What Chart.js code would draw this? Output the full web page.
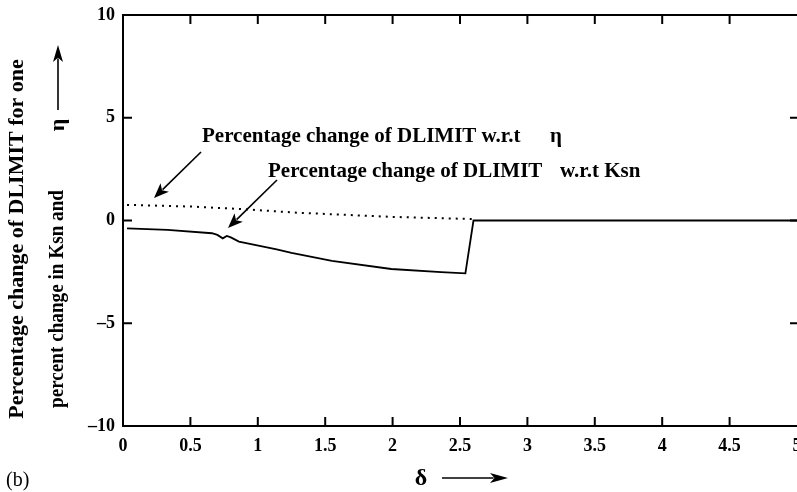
<!DOCTYPE html>
<html>
<head>
<meta charset="utf-8">
<script src="https://cdn.jsdelivr.net/npm/chart.js@4/dist/chart.umd.min.js"></script>
<style>
  html, body { margin: 0; padding: 0; background: #fff; }
  #wrap { width: 797px; height: 492px; }
</style>
</head>
<body>
<div id="wrap"><canvas id="chart" width="797" height="492"></canvas></div>
<script>
// tick labels
const xTicks = [0, 0.5, 1, 1.5, 2, 2.5, 3, 3.5, 4, 4.5, 5];
const yTicks = [-10, -5, 0, 5, 10];

// % change of DLIMIT w.r.t Ksn (solid)
const ksnDelta  = [0.03, 0.33, 0.66, 0.70, 0.74, 0.77, 0.80, 0.86, 1.14, 1.25, 1.55, 1.99, 2.36, 2.54, 2.60, 5.0];
const ksnChange = [-0.38, -0.46, -0.62, -0.70, -0.87, -0.75, -0.82, -1.03, -1.40, -1.57, -1.96, -2.36, -2.51, -2.57, 0.0, 0.0];

// % change of DLIMIT w.r.t eta (dotted)
const etaDelta  = [0.03, 0.5, 0.87, 1.29, 1.98, 2.59];
const etaChange = [0.76, 0.68, 0.56, 0.38, 0.18, 0.07];

const FONT = "'Liberation Serif', 'DejaVu Serif', serif";

function pts(xs, ys) {
  return xs.map((x, i) => ({ x: x, y: ys[i] }));
}

function arrow(ctx, x1, y1, x2, y2, head, half) {
  const a = Math.atan2(y2 - y1, x2 - x1);
  ctx.beginPath();
  ctx.moveTo(x1, y1);
  ctx.lineTo(x2 - Math.cos(a) * head * 0.8, y2 - Math.sin(a) * head * 0.8);
  ctx.stroke();
  ctx.beginPath();
  ctx.moveTo(x2, y2);
  ctx.lineTo(x2 - Math.cos(a) * head - Math.sin(a) * half, y2 - Math.sin(a) * head + Math.cos(a) * half);
  ctx.lineTo(x2 - Math.cos(a) * head * 0.75, y2 - Math.sin(a) * head * 0.75);
  ctx.lineTo(x2 - Math.cos(a) * head + Math.sin(a) * half, y2 - Math.sin(a) * head - Math.cos(a) * half);
  ctx.closePath();
  ctx.fill();
}

// frame, inward ticks, labels and arrows
const decor = {
  id: 'decor',
  afterDraw(chart) {
    const ctx = chart.ctx;
    const a = chart.chartArea;
    const xs = chart.scales.x, ys = chart.scales.y;
    const right = a.right + 2;
    ctx.save();
    ctx.strokeStyle = '#000';
    ctx.fillStyle = '#000';
    ctx.lineWidth = 2;
    ctx.strokeRect(a.left, a.top, right - a.left, a.bottom - a.top);

    const tl = 9;
    ctx.beginPath();
    xTicks.forEach(v => {
      if (v === xs.min || v === xs.max) return;
      const px = xs.getPixelForValue(v);
      ctx.moveTo(px, a.bottom); ctx.lineTo(px, a.bottom - tl);
      ctx.moveTo(px, a.top); ctx.lineTo(px, a.top + tl);
    });
    yTicks.forEach(v => {
      if (v === ys.min || v === ys.max) return;
      const py = ys.getPixelForValue(v);
      ctx.moveTo(a.left, py); ctx.lineTo(a.left + tl, py);
      ctx.moveTo(right, py); ctx.lineTo(right - tl, py);
    });
    ctx.stroke();

    // annotations
    ctx.font = 'bold 21px ' + FONT;
    ctx.textBaseline = 'alphabetic';
    ctx.textAlign = 'left';
    ctx.fillText('Percentage change of DLIMIT w.r.t', 202, 142);
    ctx.fillText('\u03B7', 550, 142);
    ctx.fillText('Percentage change of DLIMIT', 268, 177);
    ctx.fillText('w.r.t Ksn', 560, 177);
    ctx.lineWidth = 1.6;
    arrow(ctx, 201, 152, 154, 198, 15, 6);
    arrow(ctx, 277, 180, 228, 228, 15, 6);

    // y title
    ctx.font = 'bold 22px ' + FONT;
    ctx.save();
    ctx.translate(17, 239);
    ctx.rotate(-Math.PI / 2);
    ctx.textAlign = 'center';
    ctx.textBaseline = 'middle';
    ctx.fillText('Percentage change of DLIMIT for one', 0, 0);
    ctx.restore();
    ctx.save();
    ctx.font = 'bold 21px ' + FONT;
    ctx.translate(58, 0);
    ctx.rotate(-Math.PI / 2);
    ctx.textBaseline = 'middle';
    ctx.textAlign = 'left';
    ctx.fillText('percent change in Ksn and', -408, 0, 218);
    ctx.textAlign = 'center';
    ctx.font = 'bold 22px ' + FONT;
    ctx.fillText('\u03B7', -125, 0);
    ctx.restore();
    ctx.lineWidth = 1.6;
    arrow(ctx, 58, 110, 58, 45, 17, 5);

    // x title
    ctx.font = 'bold 24px ' + FONT;
    ctx.textAlign = 'center';
    ctx.textBaseline = 'middle';
    ctx.fillText('\u03B4', 421, 479);
    arrow(ctx, 442, 478, 508, 478, 18, 5);

    ctx.font = '20px ' + FONT;
    ctx.textAlign = 'left';
    ctx.fillText('(b)', 6, 481);
    ctx.restore();
  }
};

new Chart(document.getElementById('chart'), {
  type: 'line',
  data: {
    datasets: [
      {
        label: 'w.r.t Ksn',
        data: pts(ksnDelta, ksnChange),
        borderColor: '#000',
        borderWidth: 1.8,
        pointRadius: 0,
        tension: 0
      },
      {
        label: 'w.r.t eta',
        data: pts(etaDelta, etaChange),
        borderColor: '#000',
        borderWidth: 2,
        borderDash: [2, 5],
        pointRadius: 0,
        tension: 0
      }
    ]
  },
  options: {
    responsive: false,
    animation: false,
    layout: { padding: { top: 15, right: 0, left: 0, bottom: 0 } },
    plugins: { legend: { display: false }, tooltip: { enabled: false } },
    scales: {
      x: {
        type: 'linear',
        min: 0, max: 5,
        afterBuildTicks: s => { s.ticks = xTicks.map(v => ({ value: v })); },
        afterFit: s => { s.height = 66; s.paddingLeft = 0; s.paddingRight = 0; },
        grid: { display: false, drawTicks: false },
        border: { display: false },
        ticks: {
          color: '#000', padding: 10, maxRotation: 0, autoSkip: false,
          font: { family: FONT, size: 18, weight: 'bold' },
          callback: v => String(v)
        }
      },
      y: {
        min: -10, max: 10,
        afterBuildTicks: s => { s.ticks = yTicks.map(v => ({ value: v })); },
        afterFit: s => { s.width = 123; s.paddingTop = 0; s.paddingBottom = 0; },
        grid: { display: false, drawTicks: false },
        border: { display: false },
        ticks: {
          color: '#000', padding: 8, font: { family: FONT, size: 18, weight: 'bold' },
          callback: v => String(v).replace('-', '\u2013')
        }
      }
    }
  },
  plugins: [decor]
});
</script>
</body>
</html>
